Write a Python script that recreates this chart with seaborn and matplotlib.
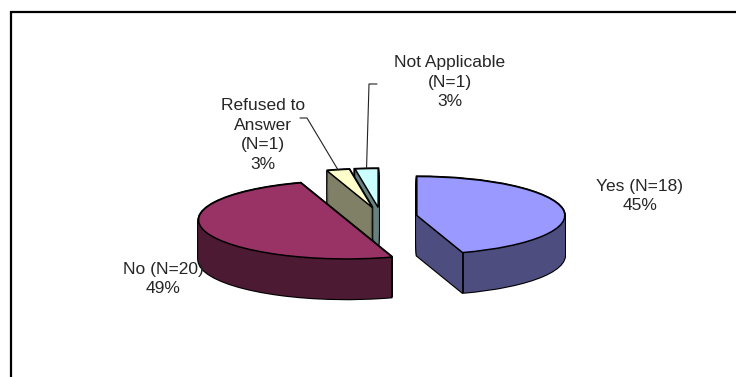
import numpy as np
import matplotlib
matplotlib.use('Agg')
import matplotlib.pyplot as plt
import seaborn as sns
from matplotlib.patches import Rectangle

# data
categories = ['Yes', 'No', 'Refused to Answer', 'Not Applicable']
counts = [18, 20, 1, 1]
label_texts = ['Yes (N=18)\n45%', 'No (N=20)\n49%',
               'Refused to\nAnswer\n(N=1)\n3%', 'Not Applicable\n(N=1)\n3%']
top_colors = ['#9999FF', '#993366', '#FFFFCC', '#CCFFFF']
side_colors = ['#4D4D80', '#4D1A33', '#808066', '#668080']

sns.set_style('white')
plt.rcParams['font.family'] = ['Liberation Sans', 'DejaVu Sans']

W, H = 736, 377
fig = plt.figure(figsize=(W / 100, H / 100), dpi=100)
ax = fig.add_axes([0, 0, 1, 1])

# tilted pie: radius 1 -> 148 px across, 39 px deep
rx, ry = 148, 39
cx, cy = 381, 217
depth = 1.03
explode = [0.245] * 4
rank = [3, 2, 1, 0]  # back slices drawn first
n_layers = 40


def to_data(px, py):
    return (px - cx) / rx, (cy - py) / ry


pie_kw = dict(startangle=90, counterclock=False, explode=explode)

# black silhouette stack
for off in np.linspace(-depth, 0, n_layers):
    wedges, _ = ax.pie(counts, center=(0, off), colors=['black'] * 4,
                       wedgeprops=dict(edgecolor='black', linewidth=1.6), **pie_kw)
    for i, w in enumerate(wedges):
        w.set_zorder(rank[i] * 10 + 1)

# coloured side stack
for off in np.linspace(-depth, 0, n_layers):
    wedges, _ = ax.pie(counts, center=(0, off), colors=side_colors,
                       wedgeprops=dict(linewidth=0), **pie_kw)
    for i, w in enumerate(wedges):
        w.set_zorder(rank[i] * 10 + 2)

# top surface
tops, _ = ax.pie(counts, center=(0, 0), colors=top_colors,
                 wedgeprops=dict(edgecolor='black', linewidth=1.1), **pie_kw)
for i, w in enumerate(tops):
    w.set_zorder(rank[i] * 10 + 4)
    # vertical edges on the front half of the rim
    for t in (w.theta1, w.theta2):
        tr = np.deg2rad(t)
        if np.sin(tr) < -0.05:
            x = w.center[0] + w.r * np.cos(tr)
            y = w.center[1] + w.r * np.sin(tr)
            ax.plot([x, x], [y, y - depth], color='black', lw=1.3,
                    zorder=rank[i] * 10 + 3, solid_capstyle='butt')

ax.set_aspect('auto')
ax.set_xlim((0 - cx) / rx, (W - cx) / rx)
ax.set_ylim((cy - H) / ry, cy / ry)
ax.axis('off')

# labels
label_pos = [(640, 196), (163, 279), (263, 135), (450, 82)]
for txt, (px, py) in zip(label_texts, label_pos):
    ax.text(*to_data(px, py), txt, ha='center', va='center', fontsize=12.5,
            linespacing=1.4, zorder=100)

# leader lines for the small slices
leader_start = {2: [(300, 118), (307, 118)], 3: [(377, 84), (369, 84)]}
for i, pts in leader_start.items():
    w = tops[i]
    tm = np.deg2rad((w.theta1 + w.theta2) / 2)
    ex = w.center[0] + w.r * np.cos(tm)
    ey = w.center[1] + w.r * np.sin(tm)
    xs = [to_data(*p)[0] for p in pts] + [ex]
    ys = [to_data(*p)[1] for p in pts] + [ey]
    ax.plot(xs, ys, color='#222222', lw=0.8, zorder=50)

# chart area border
fig.add_artist(Rectangle((11 / W, -0.1), 2, 1 - 12 / H + 0.1,
                         transform=fig.transFigure, fill=False,
                         edgecolor='black', linewidth=1.6))

fig.savefig('out.png', dpi=100)
